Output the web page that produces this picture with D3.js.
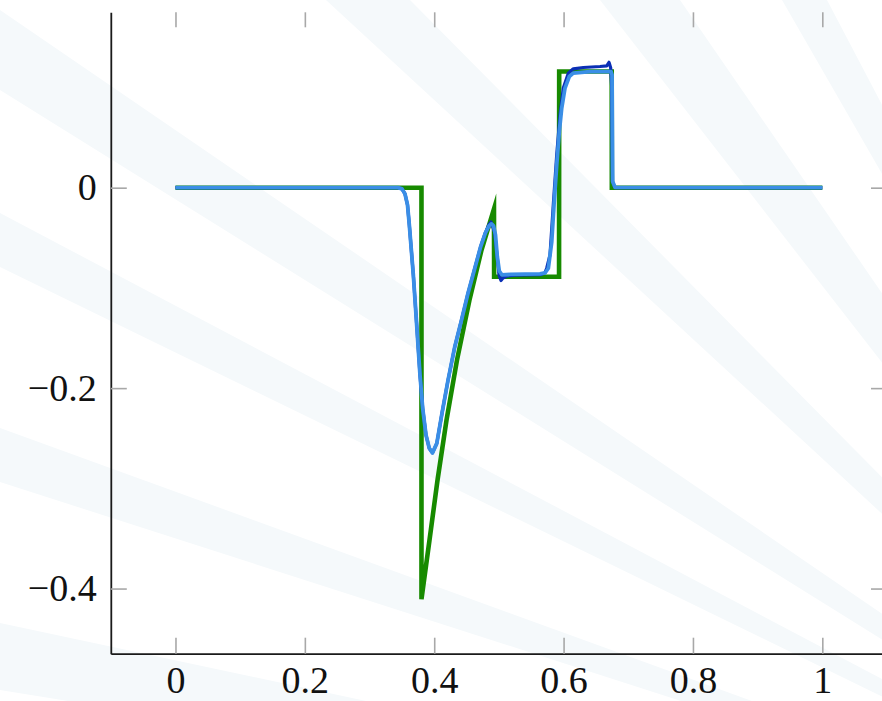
<!DOCTYPE html>
<html>
<head>
<meta charset="utf-8">
<script src="https://cdn.jsdelivr.net/npm/d3@7"></script>
<style>
  body { margin: 0; background: #fff; }
  svg { display: block; }
</style>
</head>
<body>
<div id="chart"></div>
<script>
// tick values
var xTicks = [0, 0.2, 0.4, 0.6, 0.8, 1];
var yTicks = [-0.4, -0.2, 0];

// exact solution (green)
var exactSol = [
  [0, 0], [0.3803, 0], [0.3803, -0.4106], [0.3927, -0.3517], [0.4051, -0.2918],
  [0.4190, -0.2319], [0.4352, -0.1720], [0.4545, -0.1121], [0.4731, -0.0622],
  [0.4924, -0.0212], [0.4926, -0.0888], [0.5930, -0.0888], [0.5932, 0.1159],
  [0.6744, 0.1159], [0.6746, 0], [1, 0]
];

// scheme with small overshoots (dark blue)
var schemeDark = [
  [0, 0], [0.344, 0], [0.3502, -0.0012], [0.3548, -0.0062], [0.3587, -0.0172],
  [0.3615, -0.0371], [0.3646, -0.0621], [0.3677, -0.0871], [0.3729, -0.1370],
  [0.3780, -0.1869], [0.3822, -0.2202], [0.3873, -0.2468], [0.3924, -0.2601],
  [0.3973, -0.2646], [0.4040, -0.2551], [0.4120, -0.2252], [0.4214, -0.1919],
  [0.4318, -0.1587], [0.4422, -0.1320], [0.4522, -0.1054], [0.4620, -0.0821],
  [0.4718, -0.0588], [0.4790, -0.0450], [0.4845, -0.0370], [0.4878, -0.0343],
  [0.4932, -0.0441], [0.4971, -0.0671], [0.5002, -0.0871], [0.5032, -0.0926],
  [0.5063, -0.0901], [0.5125, -0.0881], [0.5249, -0.0872], [0.5650, -0.0868],
  [0.5710, -0.0850], [0.5739, -0.0804], [0.5790, -0.0671], [0.5841, -0.0172],
  [0.5894, 0.0327], [0.5945, 0.0727], [0.5996, 0.0994], [0.6073, 0.1143],
  [0.6150, 0.1186], [0.6305, 0.1199], [0.6563, 0.1209], [0.6667, 0.1216],
  [0.6702, 0.1251], [0.6728, 0.1196], [0.6744, 0.0997], [0.6756, 0.0061],
  [0.6795, 0], [1, 0]
];

// smoother scheme (light blue)
var schemeLight = [
  [0, 0], [0.344, 0], [0.3502, -0.0012], [0.3548, -0.0062], [0.3587, -0.0172],
  [0.3615, -0.0371], [0.3646, -0.0621], [0.3677, -0.0871], [0.3729, -0.1370],
  [0.3780, -0.1869], [0.3822, -0.2202], [0.3873, -0.2468], [0.3924, -0.2601],
  [0.3973, -0.2646], [0.4040, -0.2551], [0.4120, -0.2252], [0.4214, -0.1919],
  [0.4318, -0.1587], [0.4422, -0.1320], [0.4522, -0.1054], [0.4620, -0.0821],
  [0.4718, -0.0588], [0.4790, -0.0454], [0.4847, -0.0381], [0.4886, -0.0361],
  [0.4917, -0.0381], [0.4947, -0.0471], [0.4975, -0.0688], [0.5006, -0.0831],
  [0.5048, -0.0871], [0.5172, -0.0866], [0.5636, -0.0861], [0.5713, -0.0851],
  [0.5764, -0.0804], [0.5816, -0.0545], [0.5852, -0.0172], [0.5894, 0.0228],
  [0.5934, 0.0560], [0.5971, 0.0794], [0.6022, 0.0994], [0.6088, 0.1109],
  [0.6150, 0.1143], [0.6409, 0.1159], [0.6733, 0.1159], [0.6749, 0.1126],
  [0.6759, 0.0061], [0.6795, 0.0003], [1, 0]
];

// faint background rays: pairs of points on the page edge each band passes through
var rayCenter = [1300, 900];
var rayBands = [
  [[0, 10], [0, 90]], [[0, 213], [0, 267]], [[0, 428], [0, 482]], [[0, 623], [0, 690]],
  [[326, 0], [410, 0]], [[600, 0], [680, 0]], [[782, 0], [827, 0]]
];

var W = 882, H = 701;
var margin = {top: 12.3, right: -5, bottom: 47.3, left: 110.8},
    width = W - margin.left - margin.right,
    height = H - margin.top - margin.bottom;

var serif = "'Liberation Serif', 'DejaVu Serif', 'Times New Roman', serif";

var root = d3.select("#chart").append("svg")
  .attr("width", W)
  .attr("height", H);

// background sunburst
root.append("g").selectAll("path")
  .data(rayBands)
  .enter()
  .append("path")
  .attr("fill", "#f5f9fb")
  .attr("d", function(b) {
    var R = 4000, c = rayCenter;
    var a1 = Math.atan2(b[0][1] - c[1], b[0][0] - c[0]);
    var a2 = Math.atan2(b[1][1] - c[1], b[1][0] - c[0]);
    return "M" + c[0] + "," + c[1] +
      "L" + (c[0] + R * Math.cos(a1)) + "," + (c[1] + R * Math.sin(a1)) +
      "L" + (c[0] + R * Math.cos(a2)) + "," + (c[1] + R * Math.sin(a2)) + "Z";
  });

var svg = root.append("g")
  .attr("transform", "translate(" + margin.left + "," + margin.top + ")");

var x = d3.scaleLinear().domain([-0.1, 1.1]).range([0, width]);
var y = d3.scaleLinear().domain([-0.465, 0.175]).range([height, 0]);

var fmt = function(d) { return d3.format("")(d).replace("-", "\u2212"); };

function styleAxis(g) {
  g.attr("font-family", serif);
  g.selectAll(".tick line").attr("stroke", "#a8a8a8").attr("stroke-width", 1.6);
  g.selectAll(".tick text")
    .style("font-family", serif)
    .style("font-size", "38px")
    .attr("fill", "#111");
}

// top and right ticks (no axis line)
svg.append("g")
  .call(d3.axisTop(x).tickValues(xTicks).tickSize(-15).tickFormat(""))
  .call(styleAxis)
  .call(function(g) { g.select(".domain").remove(); });
svg.append("g")
  .attr("transform", "translate(" + width + ",0)")
  .call(d3.axisRight(y).tickValues(yTicks).tickSize(-16).tickFormat(""))
  .call(styleAxis)
  .call(function(g) { g.select(".domain").remove(); });

// bottom and left axes
svg.append("g")
  .attr("transform", "translate(0," + height + ")")
  .call(d3.axisBottom(x).tickValues(xTicks).tickSizeInner(-16).tickSizeOuter(0).tickPadding(12).tickFormat(fmt))
  .call(styleAxis)
  .call(function(g) { g.select(".domain").attr("stroke", "#1a1a1a").attr("stroke-width", 1.8); });
svg.append("g")
  .call(d3.axisLeft(y).tickValues(yTicks).tickSizeInner(-16).tickSizeOuter(0).tickPadding(14).tickFormat(fmt))
  .call(styleAxis)
  .call(function(g) { g.select(".domain").attr("stroke", "#1a1a1a").attr("stroke-width", 1.8); });

var line = d3.line()
  .x(function(d) { return x(d[0]); })
  .y(function(d) { return y(d[1]); });

svg.append("path")
  .datum(exactSol)
  .attr("d", line)
  .attr("fill", "none")
  .attr("stroke", "#178a00")
  .attr("stroke-width", 4.6)
  .attr("stroke-linejoin", "miter")
  .attr("stroke-miterlimit", 10);

svg.append("path")
  .datum(schemeDark)
  .attr("d", line)
  .attr("fill", "none")
  .attr("stroke", "#0a2fb5")
  .attr("stroke-width", 3.2)
  .attr("stroke-linejoin", "round");

svg.append("path")
  .datum(schemeLight)
  .attr("d", line)
  .attr("fill", "none")
  .attr("stroke", "#3a8ee6")
  .attr("stroke-width", 3.8)
  .attr("stroke-linejoin", "round");
</script>
</body>
</html>
